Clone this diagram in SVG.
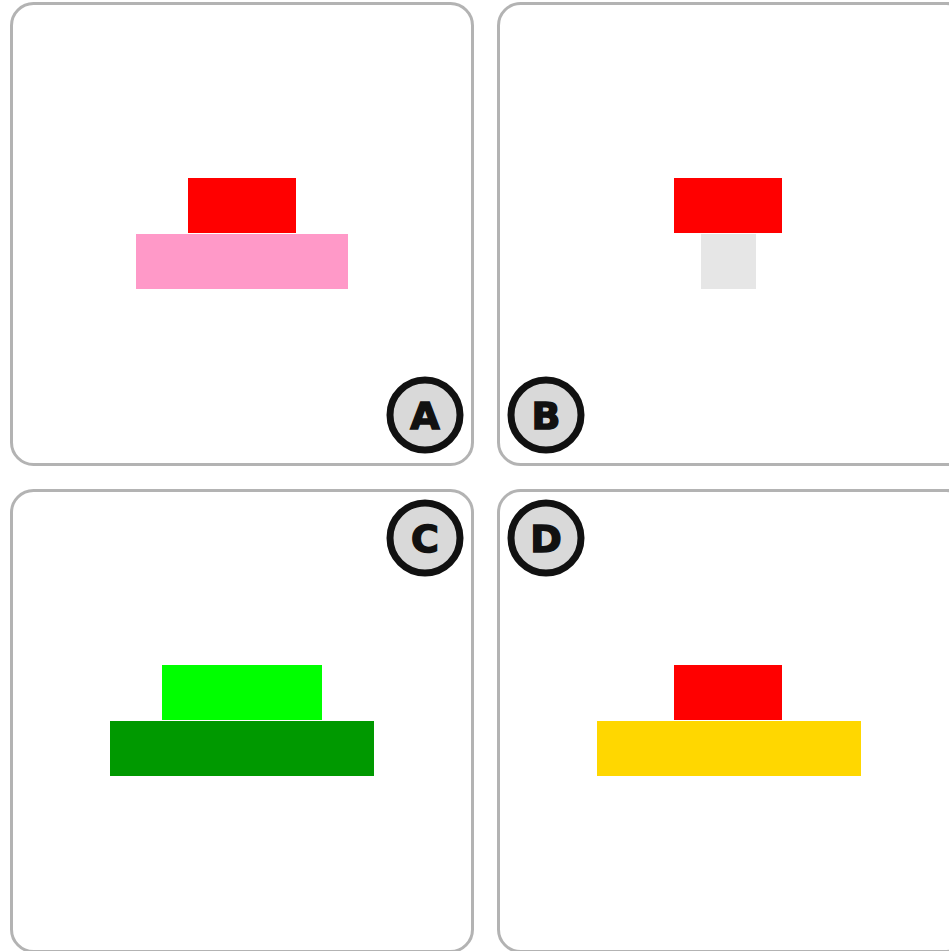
<svg xmlns="http://www.w3.org/2000/svg" width="949" height="951" viewBox="0 0 949 951">
<style>
.panel{fill:#fff;stroke:#b3b3b3;stroke-width:3}
.badge circle{fill:#d9d9d9;stroke:#111;stroke-width:7}
.badge text{font-family:"DejaVu Sans",sans-serif;font-weight:bold;font-size:38px;fill:#111;stroke:#111;stroke-width:1.5;text-anchor:middle;dominant-baseline:central}
</style>
<rect width="949" height="951" fill="#fff"/>
<g id="panelA">
<rect class="panel" x="11.5" y="3.5" width="461" height="461" rx="22"/>
<rect x="188" y="178" width="108" height="55" fill="#ff0000"/>
<rect x="136" y="234" width="212" height="55" fill="#ff99c8"/>
<g class="badge"><circle cx="425" cy="415" r="35"/><text x="425" y="416">A</text></g>
</g>
<g id="panelB">
<rect class="panel" x="498.5" y="3.5" width="470" height="461" rx="22"/>
<rect x="674" y="178" width="108" height="55" fill="#ff0000"/>
<rect x="701" y="234" width="55" height="55" fill="#e6e6e6"/>
<g class="badge"><circle cx="546" cy="415" r="35"/><text x="546" y="416">B</text></g>
</g>
<g id="panelC">
<rect class="panel" x="11.5" y="490.5" width="461" height="461" rx="22"/>
<rect x="162" y="665" width="160" height="55" fill="#00ff00"/>
<rect x="110" y="721" width="264" height="55" fill="#009900"/>
<g class="badge"><circle cx="425" cy="538" r="35"/><text x="425" y="539">C</text></g>
</g>
<g id="panelD">
<rect class="panel" x="498.5" y="490.5" width="470" height="461" rx="22"/>
<rect x="674" y="665" width="108" height="55" fill="#ff0000"/>
<rect x="597" y="721" width="264" height="55" fill="#ffd700"/>
<g class="badge"><circle cx="546" cy="538" r="35"/><text x="546" y="539">D</text></g>
</g>
<g id="connectors"/>
</svg>
